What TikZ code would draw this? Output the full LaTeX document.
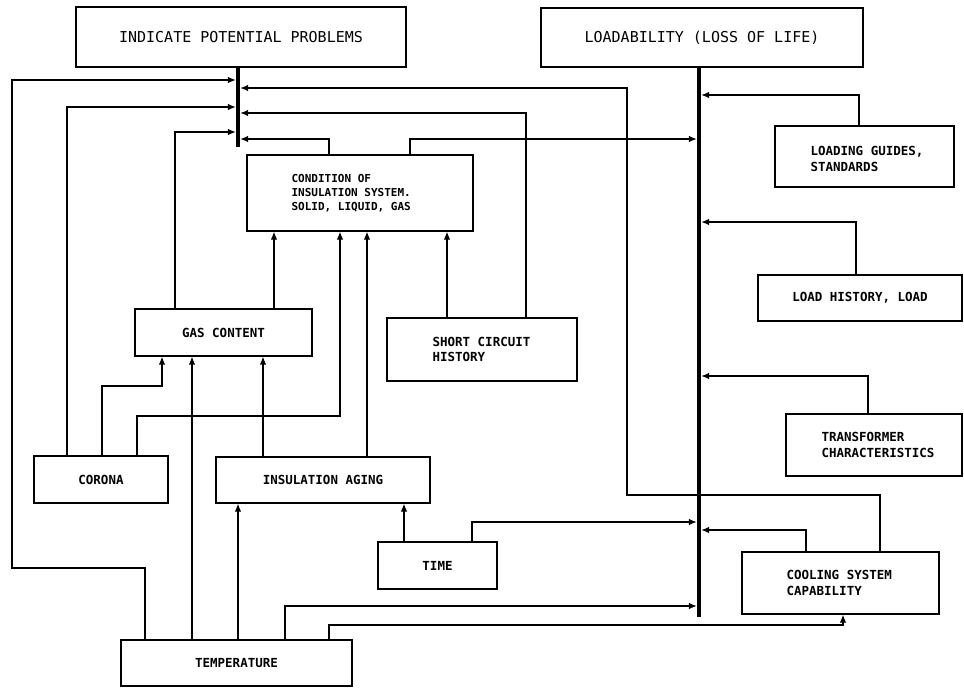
\documentclass[tikz,border=0pt]{standalone}
\usepackage{fontspec}
\setmonofont{DejaVu Sans Mono}
\usetikzlibrary{arrows.meta}
\begin{document}
\begin{tikzpicture}[x=1pt,y=-1pt,
  box/.style={draw, line width=1.3pt, inner sep=0pt, align=center,
    font=\ttfamily\bfseries\fontsize{12.5}{15.5}\selectfont},
  headbox/.style={box, font=\ttfamily\fontsize{15}{18}\selectfont},
  txt/.style={inner sep=0pt, align=left, anchor=west,
    font=\ttfamily\bfseries\fontsize{12.5}{15.5}\selectfont},
  bus/.style={fill=black, draw=none, inner sep=0pt, minimum width=4pt},
  arr/.style={line width=1.1pt, -{Latex[length=8pt,width=6.5pt]}}]
\useasboundingbox (0,0) rectangle (964,688);

% top-level outcomes and their collecting buses
\node[headbox, minimum width=330, minimum height=60] (ipp) at (241,37) {INDICATE POTENTIAL PROBLEMS};
\node[headbox, minimum width=322, minimum height=59] (lol) at (702,37.5) {LOADABILITY (LOSS OF LIFE)};
\node[bus, minimum height=80] (ippbus) at (238,107) {};
\node[bus, minimum height=550] (lolbus) at (699,342) {};

% factor boxes
\node[box, minimum width=226, minimum height=76] (cond) at (360,193) {};
\node[txt, font=\ttfamily\bfseries\fontsize{11}{14}\selectfont] (condT) at ([xshift=45pt]cond.west)
  {CONDITION OF\\INSULATION SYSTEM.\\SOLID, LIQUID, GAS};
\node[box, minimum width=179, minimum height=61] (lg) at (864.5,156.5) {};
\node[txt] (lgT) at ([xshift=36pt,yshift=-2.5pt]lg.west) {LOADING GUIDES,\\STANDARDS};
\node[box, minimum width=204, minimum height=46] (lh) at (860,298) {LOAD HISTORY, LOAD};
\node[box, minimum width=176, minimum height=62] (tc) at (874,445) {};
\node[txt] (tcT) at ([xshift=36pt]tc.west) {TRANSFORMER\\CHARACTERISTICS};
\node[box, minimum width=197, minimum height=62] (cs) at (840.5,583) {};
\node[txt] (csT) at ([xshift=45pt]cs.west) {COOLING SYSTEM\\CAPABILITY};
\node[box, minimum width=177, minimum height=47] (gas) at (223.5,332.5) {GAS CONTENT};
\node[box, minimum width=190, minimum height=63] (sc) at (482,349.5) {};
\node[txt] (scT) at ([xshift=46pt]sc.west) {SHORT CIRCUIT\\HISTORY};
\node[box, minimum width=134, minimum height=47] (cor) at (101,479.5) {CORONA};
\node[box, minimum width=214, minimum height=46] (ia) at (323,480) {INSULATION AGING};
\node[box, minimum width=119, minimum height=47] (time) at (437.5,565.5) {TIME};
\node[box, minimum width=231, minimum height=46] (temp) at (236.5,663) {TEMPERATURE};

% inputs to the potential-problems bus
\draw[arr] ([xshift=-91.5pt]temp.north) |- (12,568) |- (ippbus.west |- 0,80);
\draw[arr] ([xshift=-34pt]cor.north) |- (ippbus.west |- 0,107);
\draw[arr] ([xshift=-48.5pt]gas.north) |- (ippbus.west |- 0,132);
\draw[arr] ([xshift=39.5pt]cs.north) |- (627,495) |- (ippbus.east |- 0,88);
\draw[arr] ([xshift=44pt]sc.north) |- (ippbus.east |- 0,113);
\draw[arr] ([xshift=-31pt]cond.north) |- (ippbus.east |- 0,139);

% inputs to the loadability bus
\draw[arr] ([xshift=50pt]cond.north) |- (lolbus.west |- 0,139);
\draw[arr] ([xshift=-5.5pt]lg.north) |- (lolbus.east |- 0,95);
\draw[arr] ([xshift=-4pt]lh.north) |- (lolbus.east |- 0,222);
\draw[arr] ([xshift=-6pt]tc.north) |- (lolbus.east |- 0,376);
\draw[arr] ([xshift=34.5pt]time.north) |- (lolbus.west |- 0,522);
\draw[arr] ([xshift=-34.5pt]cs.north) |- (lolbus.east |- 0,530);
\draw[arr] ([xshift=48.5pt]temp.north) |- (lolbus.west |- 0,606);

% condition of insulation system
\draw[arr] ([xshift=50.5pt]gas.north) -- ([xshift=-86pt]cond.south);
\draw[arr] ([xshift=36pt]cor.north) |- (340,416) -- ([xshift=-20pt]cond.south);
\draw[arr] ([xshift=44pt]ia.north) -- ([xshift=7pt]cond.south);
\draw[arr] ([xshift=-35pt]sc.north) -- ([xshift=87pt]cond.south);

% gas content
\draw[arr] ([xshift=1pt]cor.north) |- (162,386) -- ([xshift=-61.5pt]gas.south);
\draw[arr] ([xshift=-44.5pt]temp.north) -- ([xshift=-31.5pt]gas.south);
\draw[arr] ([xshift=-60pt]ia.north) -- ([xshift=39.5pt]gas.south);

% insulation aging
\draw[arr] ([xshift=1.5pt]temp.north) -- ([xshift=-85pt]ia.south);
\draw[arr] ([xshift=-33.5pt]time.north) -- ([xshift=81pt]ia.south);

% cooling system
\draw[arr] ([xshift=92.5pt]temp.north) |- (843,625) -- ([xshift=2.5pt]cs.south);
\end{tikzpicture}
\end{document}
